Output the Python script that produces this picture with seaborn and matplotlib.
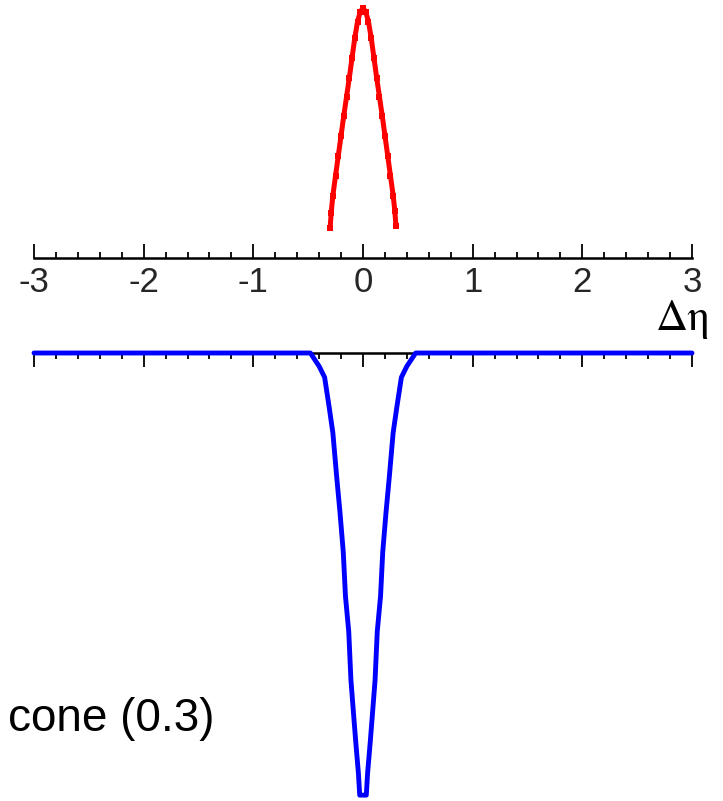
import matplotlib
matplotlib.use("Agg")
import matplotlib.pyplot as plt
from matplotlib.font_manager import FontProperties
import seaborn as sns
import pandas as pd

# Upper panel: peaked distribution in delta-eta
red_eta = [-0.30, -0.29, -0.275, -0.25, -0.225, -0.20, -0.175, -0.15, -0.125, -0.10,
           -0.075, -0.05, -0.025, 0.0, 0.025, 0.05, 0.075, 0.10, 0.125, 0.15,
           0.175, 0.20, 0.225, 0.25, 0.275, 0.29, 0.30]
red_val = [0.12, 0.18, 0.25, 0.33, 0.41, 0.49, 0.57, 0.645, 0.72, 0.80,
           0.88, 0.945, 0.985, 1.0, 0.985, 0.945, 0.88, 0.80, 0.72, 0.645,
           0.57, 0.49, 0.41, 0.33, 0.25, 0.19, 0.13]

# Lower panel: subtracted cone profile
blue_eta = [-3.0, -0.60, -0.48, -0.40, -0.35, -0.31, -0.275, -0.24, -0.21, -0.18,
            -0.16, -0.13, -0.11, -0.085, -0.066, -0.042, -0.03, 0.03, 0.042, 0.066,
            0.085, 0.11, 0.13, 0.16, 0.18, 0.21, 0.24, 0.275, 0.31, 0.35,
            0.40, 0.48, 0.60, 3.0]
blue_val = [0.0, 0.0, 0.0, -0.03, -0.055, -0.12, -0.18, -0.28, -0.36, -0.45,
            -0.55, -0.63, -0.74, -0.82, -0.88, -0.95, -1.0, -1.0, -0.95, -0.88,
            -0.82, -0.74, -0.63, -0.55, -0.45, -0.36, -0.28, -0.18, -0.12, -0.055,
            -0.03, 0.0, 0.0, 0.0]

tick_vals = [-3, -2, -1, 0, 1, 2, 3]
tick_labels = ["-3", "-2", "-1", "0", "1", "2", "3"]
axis_label = "\u0394\u03b7"
cone_label = "cone (0.3)"

sns.set_style("white")
plt.rcParams["font.family"] = ["Liberation Sans", "DejaVu Sans"]
plt.rcParams["axes.unicode_minus"] = False

W, H = 723, 801
fig = plt.figure(figsize=(W / 100, H / 100), dpi=100)

x0 = 34 / W
xw = (692 - 34) / W

# ---- upper panel ----
ax1 = fig.add_axes([x0, 1 - 258 / H, xw, (258 - 3) / H])
red_df = pd.DataFrame({"eta": red_eta, "val": red_val})
sns.lineplot(data=red_df, x="eta", y="val", ax=ax1, color="#ff0000", lw=3.6,
             sort=True, clip_on=False)
sns.scatterplot(data=red_df, x="eta", y="val", ax=ax1, color="#ff0000",
                marker="s", s=14, linewidth=0, clip_on=False)
ax1.set_xlim(-3, 3)
ax1.set_ylim(0, 1.02)
for side in ["top", "left", "right"]:
    ax1.spines[side].set_visible(False)
ax1.spines["bottom"].set_linewidth(1.8)
ax1.spines["bottom"].set_color("black")
ax1.set_yticks([])
ax1.set_xticks(tick_vals)
ax1.set_xticklabels(tick_labels)
ax1.set_xticks([v / 5 for v in range(-15, 16) if v % 5 != 0], minor=True)
ax1.tick_params(axis="x", which="major", direction="in", length=10, width=1.3,
                color="black", labelsize=25, pad=6, bottom=True)
ax1.tick_params(axis="x", which="minor", direction="in", length=4.5, width=1.3,
                color="black", bottom=True)
ax1.set_xlabel("")
ax1.set_ylabel("")
ax1.patch.set_alpha(0)

# ---- lower panel ----
ax2 = fig.add_axes([x0, 1 - 800 / H, xw, (800 - 353) / H])
blue_df = pd.DataFrame({"eta": blue_eta, "val": blue_val})
sns.lineplot(data=blue_df, x="eta", y="val", ax=ax2, color="#0000ff", lw=3.5,
             sort=True, clip_on=False)
ax2.set_xlim(-3, 3)
ax2.set_ylim(-1.011, 0)
for side in ["bottom", "left", "right"]:
    ax2.spines[side].set_visible(False)
ax2.spines["top"].set_linewidth(1.8)
ax2.spines["top"].set_color("black")
ax2.spines["top"].set_zorder(0)
ax2.set_yticks([])
ax2.xaxis.set_ticks_position("top")
ax2.set_xticks(tick_vals)
ax2.set_xticklabels([])
ax2.set_xticks([v / 5 for v in range(-15, 16) if v % 5 != 0], minor=True)
ax2.tick_params(axis="x", which="major", direction="in", length=10, width=1.3,
                color="black", top=True, bottom=False, labeltop=False, labelbottom=False)
ax2.tick_params(axis="x", which="minor", direction="in", length=4.5, width=1.3,
                color="black", top=True, bottom=False)
ax2.set_xlabel("")
ax2.set_ylabel("")
ax2.patch.set_alpha(0)

# axis title and annotation
serif = FontProperties(family="STIXGeneral", size=32)
fig.text(711 / W, 1 - 330 / H, axis_label, ha="right", va="baseline",
         fontproperties=serif, color="black")
fig.text(214 / W, 1 - 731 / H, cone_label, ha="right", va="baseline",
         fontsize=33, color="black")

fig.savefig("out.png", dpi=100, facecolor="white")
